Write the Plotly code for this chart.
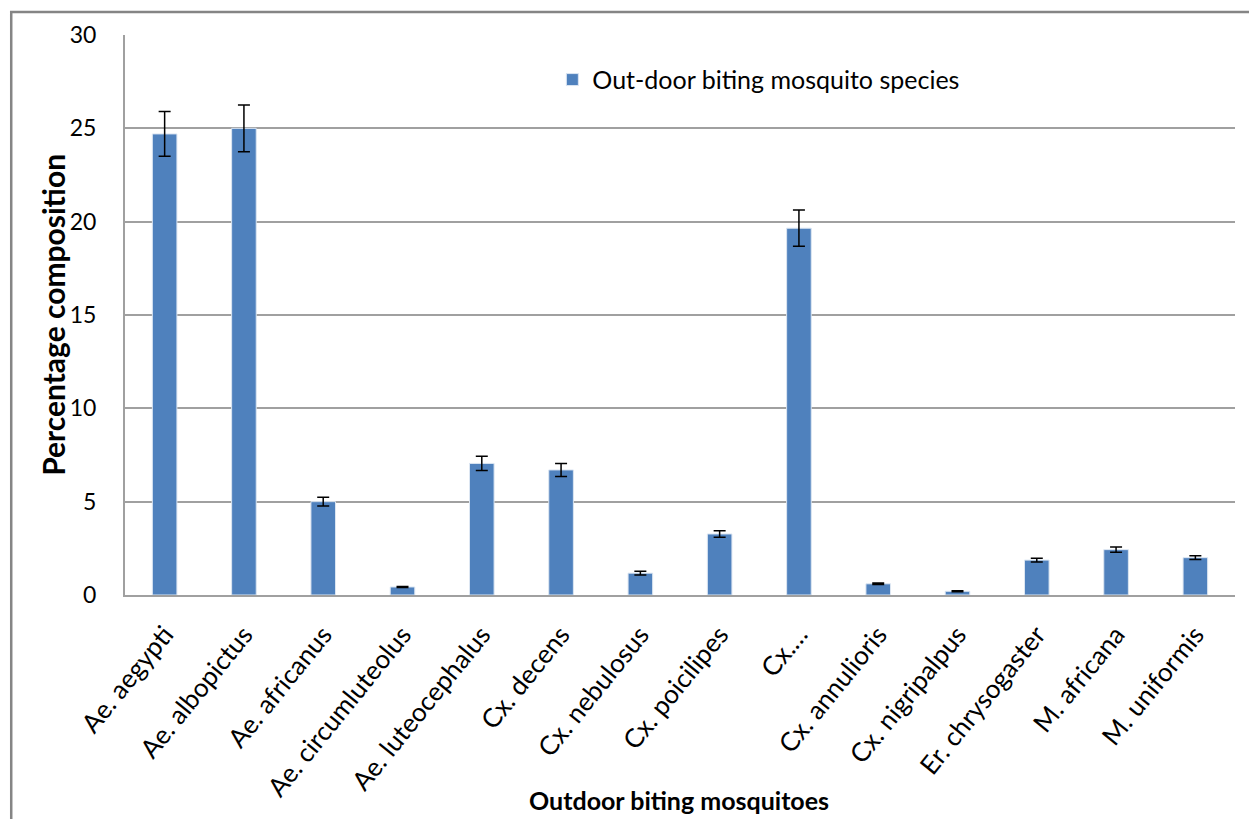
import plotly.graph_objects as go

species = ["Ae. aegypti", "Ae. albopictus", "Ae. africanus", "Ae. circumluteolus",
           "Ae. luteocephalus", "Cx. decens", "Cx. nebulosus", "Cx. poicilipes",
           "Cx.…", "Cx. annulioris", "Cx. nigripalpus", "Er. chrysogaster",
           "M. africana", "M. uniformis"]
percent = [24.7, 25.0, 5.0, 0.43, 7.05, 6.7, 1.17, 3.27, 19.65, 0.6, 0.2, 1.87, 2.43, 2.0]
err = [1.2, 1.25, 0.23, 0.03, 0.38, 0.35, 0.1, 0.17, 0.97, 0.04, 0.03, 0.1, 0.14, 0.1]
yticks = [0, 5, 10, 15, 20, 25, 30]

font = "Lato, Carlito, Calibri, sans-serif"

fig = go.Figure()
fig.add_trace(go.Bar(
    x=species, y=percent, name="Out-door biting mosquito species",
    marker=dict(color="#4F81BD", line=dict(color="#DCE6F2", width=1)),
    error_y=dict(type="data", array=err, visible=True, color="black", thickness=1.5, width=6),
))

fig.update_layout(
    width=1249, height=811,
    margin=dict(l=117, r=22, t=27, b=224),
    paper_bgcolor="white", plot_bgcolor="white",
    bargap=0.69,
    font=dict(family=font, color="black"),
    showlegend=True,
    legend=dict(x=0.385, y=0.961, xanchor="left", yanchor="top",
                font=dict(size=25, family=font), bgcolor="rgba(0,0,0,0)"),
    xaxis=dict(
        tickangle=-51, tickfont=dict(size=26, family=font),
        showline=True, linecolor="#A0A0A0", linewidth=2,
        ticks="", showgrid=False, ticklabelstandoff=12,
    ),
    yaxis=dict(
        range=[0, 30], tickvals=yticks, tickfont=dict(size=23, family=font),
        showline=True, linecolor="#A0A0A0", linewidth=2,
        showgrid=True, gridcolor="#A0A0A0", gridwidth=1.5,
        zeroline=False, ticks="", ticklabelstandoff=22,
    ),
    annotations=[
        dict(text="<b>Outdoor biting mosquitoes</b>", xref="paper", yref="paper",
             x=0.499, y=-0.366, xanchor="center", yanchor="middle", showarrow=False,
             font=dict(size=25, family=font, color="black")),
        dict(text="<b>Percentage composition</b>", xref="paper", yref="paper",
             x=-0.065, y=0.5, xanchor="center", yanchor="middle", showarrow=False,
             textangle=-90, font=dict(size=30, family=font, color="black")),
    ],
    shapes=[dict(type="rect", xref="paper", yref="paper",
                 x0=-0.1025, x1=1.0245, y0=-0.45, y1=1.041,
                 line=dict(color="#858585", width=2.5), fillcolor="rgba(0,0,0,0)", layer="below")],
)

fig.write_html("out.html")
